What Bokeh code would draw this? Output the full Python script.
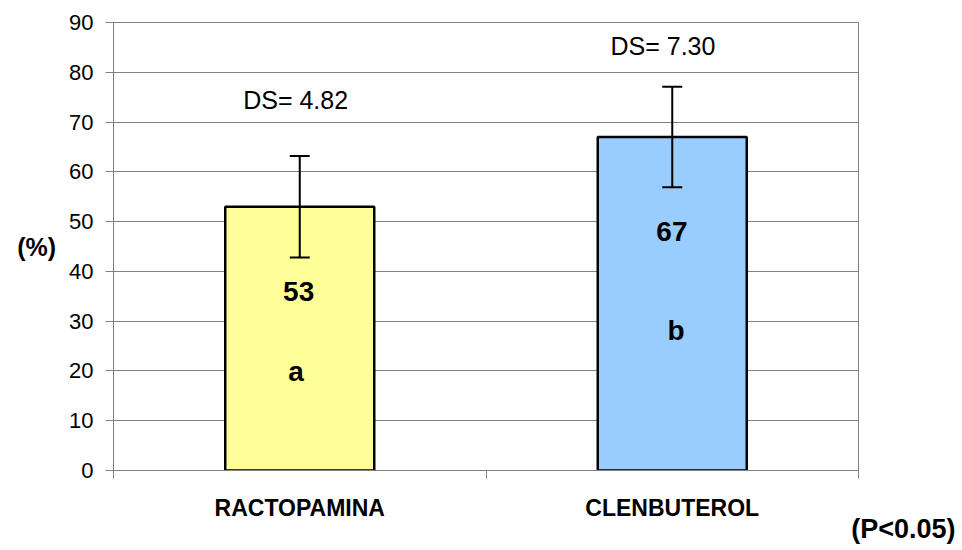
from bokeh.plotting import figure
from bokeh.models import ColumnDataSource, FixedTicker, Whisker, TeeHead, Title, Range1d
from bokeh.core.properties import value
from bokeh.embed import file_html
from bokeh.resources import INLINE

# ---- data ----
categories = ["RACTOPAMINA", "CLENBUTEROL"]
means = [53, 67]
errors = [10.2, 10.1]
sd_labels = ["DS= 4.82", "DS= 7.30"]
value_labels = ["53", "67"]
group_letters = ["a", "b"]
bar_colors = ["#FFFF99", "#99CCFF"]
y_ticks = [0, 10, 20, 30, 40, 50, 60, 70, 80, 90]
note = "(P<0.05)"
y_title = "(%)"

FONT = "Liberation Sans"
xs = [i + 0.5 for i in range(len(categories))]

p = figure(width=962, height=550, output_backend="svg", toolbar_location=None,
           x_range=Range1d(0, len(categories)), y_range=Range1d(0, 90),
           min_border_left=113, min_border_right=104, min_border_top=22,
           min_border_bottom=80)
p.background_fill_color = "white"
p.border_fill_color = "white"
p.outline_line_color = "#808080"
p.outline_line_width = 1

# grid
p.xgrid.visible = False
p.ygrid.ticker = FixedTicker(ticks=y_ticks)
p.ygrid.grid_line_color = "#808080"
p.ygrid.grid_line_width = 1

# y axis
ya = p.yaxis[0]
ya.ticker = FixedTicker(ticks=y_ticks)
ya.major_tick_out = 8
ya.major_tick_in = 0
ya.minor_tick_out = 0
ya.minor_tick_in = 0
ya.axis_line_color = "#808080"
ya.major_tick_line_color = "#808080"
ya.major_label_text_font = FONT
ya.major_label_text_font_size = "22px"
ya.major_label_text_color = "black"
ya.major_label_standoff = 12
ya.axis_label = y_title
ya.axis_label_orientation = "horizontal"
ya.axis_label_text_font = FONT
ya.axis_label_text_font_size = "25px"
ya.axis_label_text_font_style = "bold"
ya.axis_label_text_color = "black"
ya.axis_label_standoff = 10

# x axis
xa = p.xaxis[0]
xa.ticker = FixedTicker(ticks=xs, minor_ticks=list(range(len(categories) + 1)))
xa.major_label_overrides = {x: c for x, c in zip(xs, categories)}
xa.major_tick_out = 0
xa.major_tick_in = 0
xa.minor_tick_out = 8
xa.minor_tick_in = 0
xa.minor_tick_line_color = "#808080"
xa.axis_line_color = "#808080"
xa.major_label_text_font = FONT
xa.major_label_text_font_size = "23px"
xa.major_label_text_font_style = "bold"
xa.major_label_text_color = "black"
xa.major_label_standoff = 16

# bars
src = ColumnDataSource(dict(
    x=xs, top=means, color=bar_colors,
    upper=[m + e for m, e in zip(means, errors)],
    lower=[m - e for m, e in zip(means, errors)],
))
p.vbar(x="x", top="top", width=0.4, bottom=0, fill_color="color",
       line_color="black", line_width=2.5, source=src)

# error bars (drawn above the bars)
w = Whisker(source=src, base="x", upper="upper", lower="lower",
            line_color="black", line_width=2, level="overlay",
            upper_head=TeeHead(size=20, line_color="black", line_width=2),
            lower_head=TeeHead(size=20, line_color="black", line_width=2))
p.add_layout(w)

# annotation texts (positions are layout choices), vertically centred
sd_x = [0.489, 1.475]
sd_y = [74.5, 85.2]
val_x = [0.497, 1.499]
val_y = [36.0, 48.1]
let_x = [0.49, 1.51]
let_y = [19.8, 28.1]

p.text(x=sd_x, y=sd_y, text=sd_labels, text_font=value(FONT),
       text_font_size="25px", text_color="black", text_align="center",
       text_baseline="middle")
p.text(x=val_x, y=val_y, text=value_labels, text_font=value(FONT),
       text_font_size="28px", text_font_style="bold", text_color="black",
       text_align="center", text_baseline="middle")
p.text(x=let_x, y=let_y, text=group_letters, text_font=value(FONT),
       text_font_size="28px", text_font_style="bold", text_color="black",
       text_align="center", text_baseline="middle")

# significance note, below-right of the frame
note_title = Title(text=note, align="right", offset=-97, vertical_align="top",
                   text_font=FONT, text_font_size="27px",
                   text_font_style="bold", text_color="black")
try:
    note_title.standoff = -20
except Exception:
    note_title.standoff = 0
p.add_layout(note_title, "below")

open("out.html", "w").write(file_html(p, INLINE))
